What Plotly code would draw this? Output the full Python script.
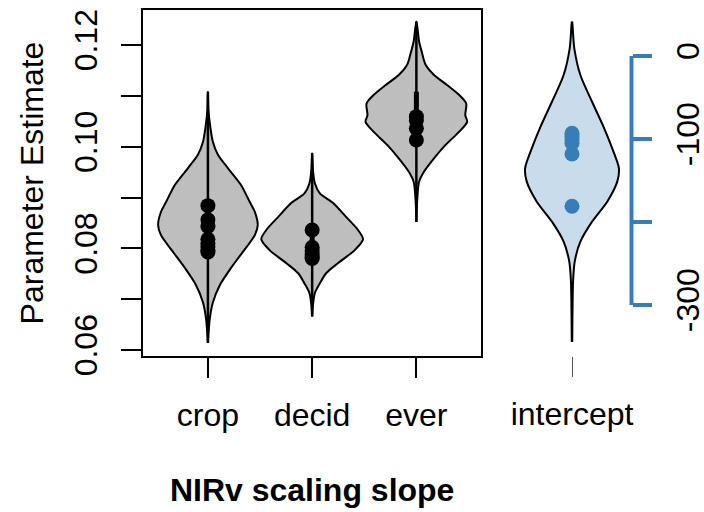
import plotly.graph_objects as go

W, H = 704, 512

# ---------------- data ----------------
categories = ["crop", "decid", "ever"]
cat_pos = [1, 2, 3]

# violin outlines: value levels and half-widths (x units)
crop_vals = [0.1108, 0.1072, 0.1037, 0.1009, 0.0984, 0.0958, 0.0925, 0.0891, 0.0872,
             0.0846, 0.0826, 0.0793, 0.0761, 0.0728, 0.0694, 0.0663, 0.0614]
crop_hw = [0.0, 0.005, 0.024, 0.048, 0.096, 0.191, 0.316, 0.402, 0.450,
           0.478, 0.450, 0.335, 0.220, 0.115, 0.048, 0.019, 0.0]

decid_vals = [0.0987, 0.0954, 0.0928, 0.0908, 0.0889, 0.0862, 0.0836, 0.0818,
              0.0797, 0.0771, 0.0751, 0.0731, 0.0712, 0.0689, 0.0666]
decid_hw = [0.0, 0.008, 0.026, 0.074, 0.201, 0.325, 0.440, 0.488,
            0.411, 0.249, 0.134, 0.074, 0.026, 0.008, 0.0]

ever_vals = [0.1246, 0.1207, 0.1187, 0.1161, 0.1141, 0.1121, 0.1102, 0.1085, 0.1062,
             0.1049, 0.1029, 0.1003, 0.0977, 0.0951, 0.0931, 0.0895, 0.0852]
ever_hw = [0.0, 0.026, 0.051, 0.089, 0.169, 0.297, 0.409, 0.478, 0.469,
           0.488, 0.409, 0.278, 0.169, 0.074, 0.026, 0.008, 0.0]

# inner box (quartiles)
box_q1 = [0.0810, 0.0790, 0.1040]
box_q3 = [0.0875, 0.0832, 0.1108]

# point estimates
crop_pts = [0.0884, 0.0856, 0.0843, 0.0818, 0.0810, 0.0803, 0.0796, 0.0793]
decid_pts = [0.0836, 0.0802, 0.0795, 0.0789, 0.0783, 0.0780]
ever_pts = [0.1059, 0.1052, 0.1036, 0.1013]

# intercept
int_vals = [41.3, 9.3, -22.9, -55.1, -87.1, -111.2, -135.3, -151.4, -175.5,
            -199.6, -223.7, -247.8, -271.9, -344.2]
int_hw = [0.0, 0.022, 0.080, 0.192, 0.308, 0.385, 0.449, 0.433, 0.337,
          0.192, 0.080, 0.026, 0.010, 0.0]
int_pts = [-93, -97, -101, -105, -118, -181]

left_ticks = [0.06, 0.07, 0.08, 0.09, 0.10, 0.11, 0.12]
left_ticktext = ["0.06", "", "0.08", "", "0.10", "", "0.12"]
right_ticks = [0, -100, -200, -300]
right_ticktext = ["0", "-100", "", "-300"]

# ---------------- style ----------------
FONT = "Liberation Sans, Arial, sans-serif"
FS = 32
GREY = "#BEBEBE"
BLUE = "#377EB8"
LBLUE = "#C9DCEC"

fig = go.Figure()

def violin(xc, vals, hw, fill, xa, ya):
    xs = [xc + h for h in hw] + [xc - h for h in reversed(hw)]
    ys = list(vals) + list(reversed(vals))
    fig.add_trace(go.Scatter(x=xs, y=ys, mode="lines", fill="toself", fillcolor=fill,
                             line=dict(color="black", width=2, shape="spline", smoothing=0.8),
                             xaxis=xa, yaxis=ya, hoverinfo="skip", showlegend=False))

profiles = [(crop_vals, crop_hw, crop_pts), (decid_vals, decid_hw, decid_pts),
            (ever_vals, ever_hw, ever_pts)]

for i, (vals, hw, pts) in enumerate(profiles):
    xc = cat_pos[i]
    violin(xc, vals, hw, GREY, "x", "y")
    fig.add_trace(go.Scatter(x=[xc, xc], y=[min(vals), max(vals)], mode="lines",
                             line=dict(color="black", width=2.5), xaxis="x", yaxis="y",
                             hoverinfo="skip", showlegend=False))
    fig.add_trace(go.Scatter(x=[xc, xc], y=[box_q1[i], box_q3[i]], mode="lines",
                             line=dict(color="black", width=5), xaxis="x", yaxis="y",
                             hoverinfo="skip", showlegend=False))
    fig.add_trace(go.Scatter(x=[xc] * len(pts), y=pts, mode="markers",
                             marker=dict(color="black", size=15), xaxis="x", yaxis="y",
                             showlegend=False))

# intercept violin
fig.add_trace(go.Scatter(x=[0, 0], y=[min(int_vals), max(int_vals)], mode="lines",
                         line=dict(color="black", width=2.5), xaxis="x2", yaxis="y2",
                         hoverinfo="skip", showlegend=False))
violin(0, int_vals, int_hw, LBLUE, "x2", "y2")
fig.add_trace(go.Scatter(x=[0] * len(int_pts), y=int_pts, mode="markers",
                         marker=dict(color=BLUE, size=15), xaxis="x2", yaxis="y2",
                         showlegend=False))

# geometry (pixels in reference)
box_l, box_r, box_t, box_b = 143.3, 481.0, 10.0, 356.0
ydom = [1 - box_b / H, 1 - box_t / H]
ppu = (350 - 45) / 0.06
y_lo = 0.06 - (box_b - 350) / ppu
y_hi = 0.12 + (45 - box_t) / ppu
ppu2 = (305 - 56) / 300
y2_hi = (56 - box_t) / ppu2
y2_lo = -(box_b - 56) / ppu2

x2_l, x2_r, x2_c = 520.0, 660.0, 572.0
xppu = 104.5
axis_x = 631.5

fig.update_layout(
    width=W, height=H, autosize=False,
    margin=dict(l=0, r=0, t=0, b=0, autoexpand=False),
    paper_bgcolor="white", plot_bgcolor="white",
    font=dict(family=FONT, size=FS, color="black"),
    showlegend=False,
    xaxis=dict(domain=[box_l / W, box_r / W], range=[0.38, 3.62], anchor="y",
               automargin=False,
               showline=True, mirror=True, linecolor="black", linewidth=2,
               showgrid=False, zeroline=False, ticks="outside", ticklen=20, tickwidth=1.5,
               tickcolor="black", tickvals=cat_pos, ticktext=categories,
               ticklabelstandoff=10,
               title=dict(text="<b>NIRv scaling slope</b>", standoff=46,
                          font=dict(size=FS))),
    yaxis=dict(domain=ydom, range=[y_lo, y_hi], anchor="x", automargin=False,
               showline=True, mirror=True, linecolor="black", linewidth=2,
               showgrid=False, zeroline=False, ticks="outside", ticklen=20, tickwidth=1.5,
               tickcolor="black", tickvals=left_ticks, ticktext=left_ticktext,
               tickangle=-90, ticklabelstandoff=12,
               title=dict(text="Parameter Estimate", standoff=14, font=dict(size=FS))),
    xaxis2=dict(domain=[x2_l / W, x2_r / W], automargin=False,
                range=[-(x2_c - x2_l) / xppu, (x2_r - x2_c) / xppu], anchor="y2",
                showline=False, showgrid=False, zeroline=False, ticks="outside",
                ticklen=20, tickwidth=1, tickcolor="#555555", tickvals=[0],
                ticktext=["intercept"], ticklabelstandoff=10),
    yaxis2=dict(domain=ydom, range=[y2_lo, y2_hi], anchor="free", position=axis_x / W,
                automargin=False,
                side="right", showline=False, showgrid=False,
                zeroline=False, ticks="outside", ticklen=19, tickwidth=4, tickcolor=BLUE,
                tickvals=right_ticks, ticktext=right_ticktext, tickangle=-90,
                ticklabelstandoff=9),
)

fig.add_shape(type="line", xref="paper", yref="y2", x0=axis_x / W, x1=axis_x / W,
              y0=right_ticks[0], y1=right_ticks[-1], line=dict(color=BLUE, width=4))

fig.write_html("out.html")
